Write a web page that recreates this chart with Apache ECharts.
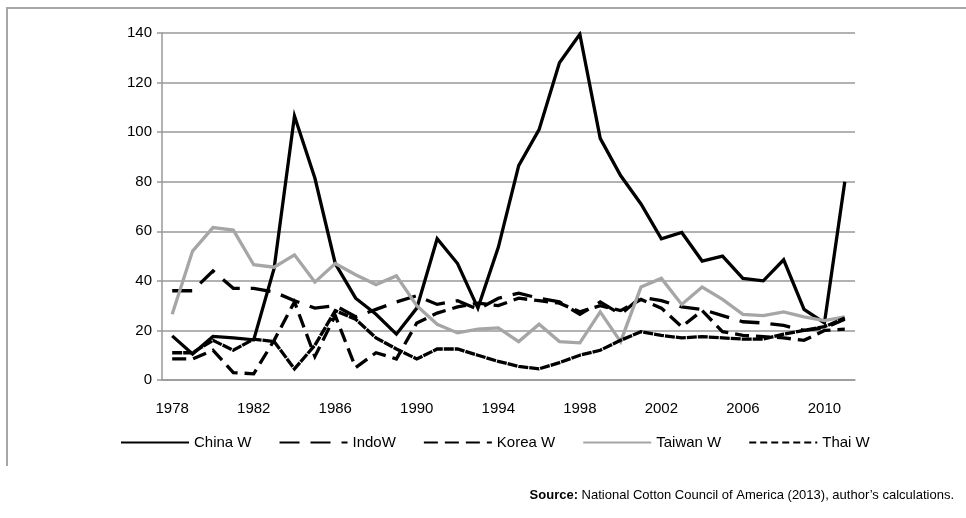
<!DOCTYPE html>
<html>
<head>
<meta charset="utf-8">
<script src="https://cdn.jsdelivr.net/npm/echarts@6/dist/echarts.min.js"></script>
<style>
  body { margin: 0; background: #fff; }
  #chart { width: 966px; height: 518px; }
</style>
</head>
<body>
<div id="chart"></div>
<script>
const years = [];
for (let y = 1978; y <= 2011; y++) years.push(String(y));

const china = [17.8, 10.5, 17.6, 17.0, 16.2, 45, 106.5, 81.5, 47, 33, 26.5, 18.5, 29, 57, 47, 29, 53.5, 86.5,
  101, 128, 139.5, 97.5, 82.5, 71, 57, 59.5, 48, 50, 41, 40, 48.5, 28.5, 23, 80];
const indo = [36, 36, 44, 37, 37, 35.5, 32, 29, 30, 25.5, 28.5, 31.5, 34, 30.5, 32, 28.5, 33, 35,
  33, 31.5, 26.5, 31.5, 26.5, 33.5, 32, 29.5, 28.5, 26, 23.5, 23, 22, 20, 21, 24.5];
const korea = [8.5, 8.5, 12, 3, 2.5, 16, 31.5, 9.5, 26, 5, 11, 8.5, 23, 27, 29.5, 31, 30, 33,
  32, 31, 27.5, 30, 28, 32.5, 29, 21.5, 28, 19.5, 18, 17.5, 17, 16, 20, 20.5];
const taiwan = [26.5, 52, 61.5, 60.5, 46.5, 45.5, 50.5, 39.5, 47, 42.5, 38.5, 42, 30, 22.5, 19, 20.5, 21, 15.5,
  22.5, 15.5, 15, 27.5, 15.5, 37.5, 41, 30.5, 37.5, 32.5, 26.5, 26, 27.5, 25.5, 24, 25.5];
const thai = [11, 11, 16, 12, 16.5, 15.5, 4.5, 14, 28, 24.5, 17, 12.5, 8.5, 12.5, 12.5, 10, 7.5, 5.5,
  4.5, 7, 10, 12, 16, 19.5, 18, 17, 17.5, 17, 16.5, 16.5, 18.5, 20, 21.5, 25];
const seriesNames = ['China W', 'IndoW', 'Korea W', 'Taiwan W', 'Thai W'];

// no narrow font installed, so a slightly smaller Arial-metric font instead
const font = "'Liberation Sans', Arial, sans-serif";

const mkLine = (name, data, color, dash) => ({
  name: name,
  type: 'line',
  data: data,
  symbol: 'none',
  lineStyle: { color: color, width: 3.3, type: dash, cap: 'butt', join: 'miter' },
  itemStyle: { color: color },
  animation: false
});

const chart = echarts.init(document.getElementById('chart'));
chart.setOption({
  backgroundColor: '#fff',
  grid: { left: 162, right: 111, top: 33, bottom: 138 },
  legend: {
    left: 115, top: 430,
    itemWidth: 68, itemHeight: 14, itemGap: 27,
    itemStyle: { opacity: 0 },
    textStyle: { fontFamily: font, fontSize: 15, color: '#000' },
    data: [
      { name: 'China W' },
      { name: 'IndoW' },
      { name: 'Korea W' },
      { name: 'Taiwan W' },
      { name: 'Thai W', lineStyle: { type: [7, 4] } }
    ]
  },
  xAxis: {
    type: 'category',
    data: years,
    boundaryGap: true,
    axisLine: { lineStyle: { color: '#999', width: 1.5 } },
    axisTick: { interval: 0, length: 5, lineStyle: { color: '#999', width: 1.5 } },
    axisLabel: { interval: 3, margin: 21, color: '#000', fontFamily: font, fontSize: 15 }
  },
  yAxis: {
    type: 'value',
    min: 0, max: 140, interval: 20,
    axisLine: { show: true, lineStyle: { color: '#999', width: 1.5 } },
    axisTick: { show: true, length: 5, lineStyle: { color: '#999', width: 1.5 } },
    splitLine: { lineStyle: { color: '#999', width: 1.5 } },
    axisLabel: { margin: 10, color: '#000', fontFamily: font, fontSize: 15 }
  },
  series: [
    mkLine(seriesNames[0], china, '#000', 'solid'),
    mkLine(seriesNames[1], indo, '#000', [20, 11]),
    mkLine(seriesNames[2], korea, '#000', [14, 7]),
    mkLine(seriesNames[3], taiwan, '#a6a6a6', 'solid'),
    mkLine(seriesNames[4], thai, '#000', [10, 1])
  ],
  graphic: [
    { type: 'polyline', shape: { points: [[7, 466], [7, 8], [966, 8]] }, style: { stroke: '#a6a6a6', lineWidth: 2, fill: null } },
    {
      type: 'text', right: 12, top: 489,
      style: {
        text: '{b|Source:} National Cotton Council of America (2013), author’s calculations.',
        font: '13px ' + font, fill: '#000',
        rich: { b: { fontWeight: 'bold', fontFamily: font, fontSize: 13 } }
      }
    }
  ]
});
</script>
</body>
</html>
